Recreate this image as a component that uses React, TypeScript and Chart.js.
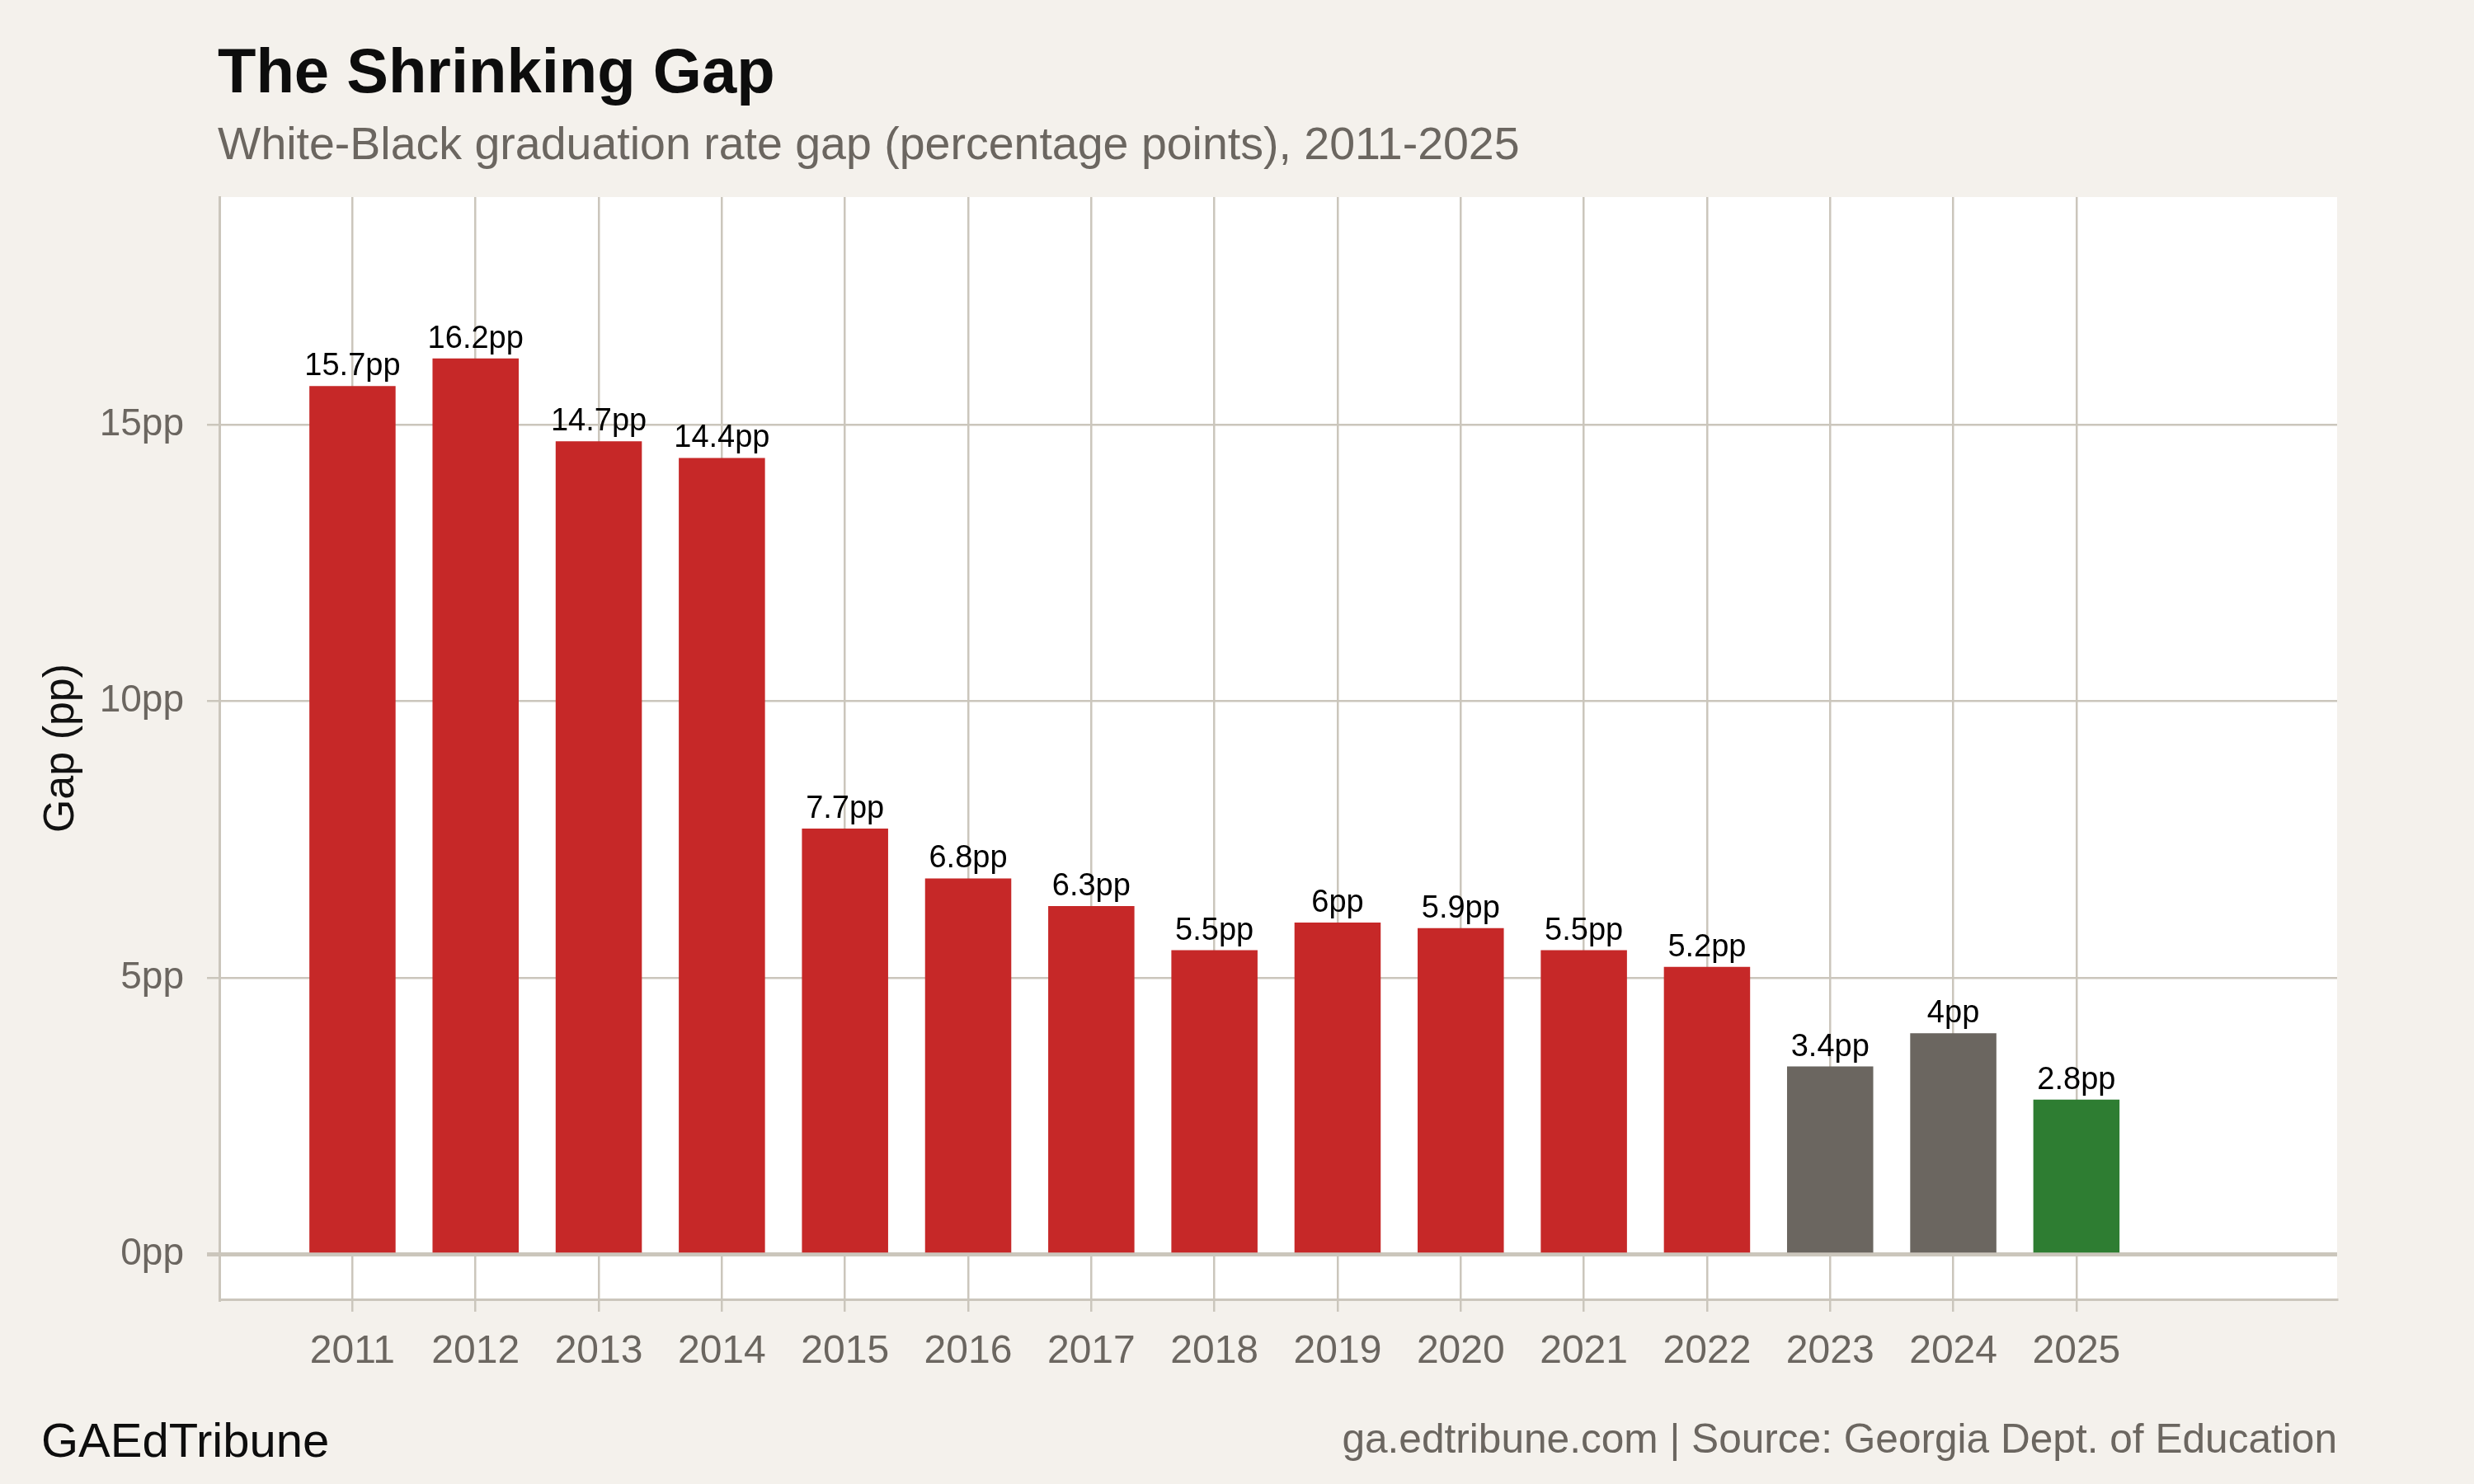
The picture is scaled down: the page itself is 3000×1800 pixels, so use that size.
import React, { useRef, useEffect } from "react";
import Chart from "chart.js/auto";

// graduation-rate gap, White minus Black, percentage points
const years = [2011, 2012, 2013, 2014, 2015, 2016, 2017, 2018, 2019, 2020, 2021, 2022, 2023, 2024, 2025];
const gaps = [15.7, 16.2, 14.7, 14.4, 7.7, 6.8, 6.3, 5.5, 6, 5.9, 5.5, 5.2, 3.4, 4, 2.8];
const yTicks = [0, 5, 10, 15];

const FONT = '"Liberation Sans", Arial, Helvetica, sans-serif';
const BG = "#f4f1ec";
const GRID = "#cbc6bc";
const MUTED = "#6b6660";

const barColor = (year: number) => {
  if (year === 2025) return "#2e7d32";
  if (year >= 2023) return "#6b6660";
  return "#c62828";
};

const App = () => {
  const chartRef = useRef<HTMLCanvasElement>(null);

  useEffect(() => {
    document.body.style.margin = "0";
    document.body.style.background = BG;
    if (!chartRef.current) return;
    const ctx = chartRef.current.getContext("2d");
    if (!ctx) return;

    Chart.defaults.font.family = FONT;

    const panelBg = {
      id: "panelBg",
      beforeDraw(chart: any) {
        const { ctx, chartArea } = chart;
        ctx.save();
        ctx.fillStyle = "#ffffff";
        ctx.fillRect(chartArea.left, chartArea.top, chartArea.right - chartArea.left, chartArea.bottom - chartArea.top);
        ctx.restore();
      },
    };

    const valueLabels = {
      id: "valueLabels",
      afterDatasetsDraw(chart: any) {
        const { ctx } = chart;
        const meta = chart.getDatasetMeta(0);
        ctx.save();
        ctx.font = `38px ${FONT}`;
        ctx.fillStyle = "#000000";
        ctx.textAlign = "center";
        ctx.textBaseline = "alphabetic";
        meta.data.forEach((bar: any, i: number) => {
          ctx.fillText(`${gaps[i]}pp`, bar.x, bar.y - 13);
        });
        ctx.restore();
      },
    };

    const texts = {
      id: "texts",
      afterDraw(chart: any) {
        const { ctx } = chart;
        ctx.save();
        ctx.textBaseline = "alphabetic";
        ctx.textAlign = "left";
        ctx.fillStyle = "#0d0d0d";
        ctx.font = `bold 76px ${FONT}`;
        ctx.fillText("The Shrinking Gap", 264, 112);
        ctx.fillStyle = MUTED;
        ctx.font = `55.5px ${FONT}`;
        ctx.fillText("White-Black graduation rate gap (percentage points), 2011-2025", 264, 193);
        ctx.fillStyle = "#0d0d0d";
        ctx.font = `58px ${FONT}`;
        ctx.fillText("GAEdTribune", 50, 1767);
        ctx.fillStyle = MUTED;
        ctx.font = `49.6px ${FONT}`;
        ctx.textAlign = "right";
        ctx.fillText("ga.edtribune.com | Source: Georgia Dept. of Education", 2834, 1762);
        ctx.restore();
      },
    };

    const chart = new Chart(ctx, {
      type: "bar",
      data: {
        datasets: [
          {
            label: "Gap",
            data: years.map((y, i) => ({ x: y, y: gaps[i] })),
            backgroundColor: years.map(barColor),
            borderWidth: 0,
            barPercentage: 0.7,
            categoryPercentage: 1,
          },
        ],
      },
      options: {
        responsive: false,
        maintainAspectRatio: false,
        devicePixelRatio: 1,
        animation: false,
        layout: { padding: { top: 239, right: 166, bottom: 0, left: 0 } },
        plugins: {
          legend: { display: false },
          tooltip: { enabled: false },
        },
        scales: {
          x: {
            type: "linear",
            offset: false,
            min: 2009.919,
            max: 2027.117,
            afterBuildTicks: (scale: any) => {
              scale.ticks = years.map((v) => ({ value: v }));
            },
            afterFit: (scale: any) => {
              scale.height = 224;
            },
            ticks: {
              callback: (v: any) => String(v),
              color: MUTED,
              font: { size: 48 },
              padding: 20,
              maxRotation: 0,
              autoSkip: false,
            },
            grid: {
              offset: false,
              color: GRID,
              lineWidth: 2.5,
              tickLength: 15,
              drawTicks: true,
            },
            border: { display: true, color: GRID, width: 3 },
          },
          y: {
            min: -0.81,
            max: 19.116,
            afterBuildTicks: (scale: any) => {
              scale.ticks = yTicks.map((v) => ({ value: v }));
            },
            afterFit: (scale: any) => {
              scale.width = 266;
            },
            ticks: {
              callback: (v: any) => `${v}pp`,
              color: MUTED,
              font: { size: 46 },
              padding: 28,
            },
            grid: {
              color: GRID,
              lineWidth: (c: any) => (c.tick && c.tick.value === 0 ? 5 : 2.5),
              tickLength: 15,
            },
            border: { display: true, color: GRID, width: 3 },
            title: {
              display: true,
              text: "Gap (pp)",
              color: "#111111",
              font: { size: 52 },
              padding: { top: 43, bottom: 0 },
            },
          },
        },
      },
      plugins: [panelBg, valueLabels, texts],
    });

    return () => {
      chart.destroy();
    };
  }, []);

  return (
    <div style={{ position: "absolute", left: 0, top: 0, width: 3000, height: 1800, background: BG }}>
      <canvas ref={chartRef} width={3000} height={1800} style={{ display: "block" }} />
    </div>
  );
};

export default App;
